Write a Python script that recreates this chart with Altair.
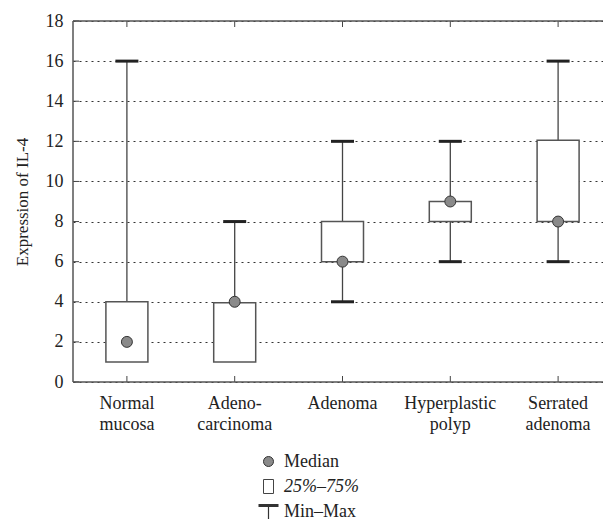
import altair as alt
import pandas as pd

categories = ["Normal\nmucosa", "Adeno-\ncarcinoma", "Adenoma", "Hyperplastic\npolyp", "Serrated\nadenoma"]
mins = [1, 1, 4, 6, 6]
q1s = [1, 1, 6, 8, 8]
medians = [2, 4, 6, 9, 8]
q3s = [4, 3.95, 8, 9, 12.05]
maxs = [16, 8, 12, 12, 16]
y_ticks = [0, 2, 4, 6, 8, 10, 12, 14, 16, 18]
legend_items = ["Median", "25%–75%", "Min–Max"]

df = pd.DataFrame({"cat": categories, "min": mins, "q1": q1s, "med": medians, "q3": q3s, "max": maxs})
ticks_df = pd.DataFrame({"v": y_ticks})
leg_df = pd.DataFrame({"item": legend_items, "cat": [categories[0]] * 3, "v": [0, 0, 0]})
one_df = pd.DataFrame({"a": [0]})

FONT = "Liberation Serif"
W, H = 530, 361
XRANGE = 539

xscale = alt.Scale(domain=categories, range=[0, XRANGE], paddingInner=0, paddingOuter=0)
xaxis = alt.Axis(labelExpr="split(datum.label, '\\n')", labelAngle=0, ticks=False,
                 domain=False, labelFont=FONT, labelFontSize=18, labelColor="#222",
                 labelPadding=12, labelLineHeight=21, grid=False)
yscale = alt.Scale(domain=[0, 18], nice=False)
yaxis = alt.Axis(values=y_ticks, tickCount=10, labelOverlap=False,
                 title="Expression of IL-4", titleFont=FONT, titleFontSize=17,
                 titleFontWeight="normal", titleColor="#222", titlePadding=14,
                 labelFont=FONT, labelFontSize=18, labelColor="#222", labelPadding=10,
                 ticks=False, domain=False, grid=True, gridDash=[2, 4], gridColor="#333",
                 gridWidth=1)


def X():
    return alt.X("cat:N", sort=categories, title=None, scale=xscale, axis=xaxis)


def Y(field):
    return alt.Y(field, scale=yscale, axis=yaxis)


base = alt.Chart(df)

grid = base.mark_rule(opacity=0).encode(x=X(), y=Y("med:Q"))

whisk_up = base.mark_rule(color="#444", strokeWidth=1.3).encode(x=X(), y=Y("q3:Q"), y2="max:Q")
whisk_lo = base.mark_rule(color="#444", strokeWidth=1.3).encode(x=X(), y=Y("min:Q"), y2="q1:Q")
cap_up = base.transform_filter(alt.datum.max > alt.datum.q3).mark_tick(
    color="#222", thickness=3, size=23, opacity=1).encode(x=X(), y=Y("max:Q"))
cap_lo = base.transform_filter(alt.datum.min < alt.datum.q1).mark_tick(
    color="#222", thickness=3, size=23, opacity=1).encode(x=X(), y=Y("min:Q"))
box = base.mark_bar(width=42, fill="white", stroke="#555", strokeWidth=1.5).encode(
    x=X(), y=Y("q1:Q"), y2="q3:Q")
med = base.mark_point(filled=True, shape="circle", size=120, fill="#8a8a8a", stroke="#333",
                      strokeWidth=1, opacity=1).encode(x=X(), y=Y("med:Q"))

top_ticks = base.mark_rule(color="#444", strokeWidth=1).encode(
    x=X(), y=alt.value(0), y2=alt.value(6))
bot_ticks = base.mark_rule(color="#444", strokeWidth=1).encode(
    x=X(), y=alt.value(H), y2=alt.value(H - 6))
ytick_marks = alt.Chart(ticks_df).mark_rule(color="#444", strokeWidth=1).encode(
    y=Y("v:Q"), x=alt.value(0), x2=alt.value(6))

frame_top = alt.Chart(one_df).mark_rule(color="#555", strokeWidth=1.5).encode(
    x=alt.value(0), x2=alt.value(W), y=alt.value(0))
frame_bot = alt.Chart(one_df).mark_rule(color="#555", strokeWidth=1.5).encode(
    x=alt.value(0), x2=alt.value(W), y=alt.value(H))
frame_left = alt.Chart(one_df).mark_rule(color="#555", strokeWidth=1.5).encode(
    x=alt.value(0), y=alt.value(0), y2=alt.value(H))

shape_range = [
    "M0.5,0A0.5,0.5,0,1,1,-0.5,0A0.5,0.5,0,1,1,0.5,0Z",
    "M-0.5,-0.7H0.5V0.7H-0.5Z",
    "M-1,-0.75H1V-0.45H-1Z M-0.06,-0.45H0.06V0.85H-0.06Z",
]
leg_common = dict(title=None, orient="none", legendX=185, legendY=430)
legend_layer = alt.Chart(leg_df).mark_point(opacity=0, filled=True).encode(
    x=X(),
    y=Y("v:Q"),
    shape=alt.Shape("item:N", sort=legend_items,
                    scale=alt.Scale(domain=legend_items, range=shape_range),
                    legend=alt.Legend(symbolSize=400, symbolOpacity=1, symbolStrokeWidth=1,
                                      labelFont=FONT, labelFontSize=18, labelColor="#222",
                                      labelOffset=5, rowPadding=5, padding=0,
                                      labelFontStyle={"expr": "datum.label == '25%–75%' ? 'italic' : 'normal'"},
                                      **leg_common)),
    fill=alt.Fill("item:N", sort=legend_items,
                  scale=alt.Scale(domain=legend_items, range=["#8a8a8a", "white", "#333"]),
                  legend=alt.Legend(**leg_common)),
    stroke=alt.Stroke("item:N", sort=legend_items,
                      scale=alt.Scale(domain=legend_items, range=["#333", "#444", "transparent"]),
                      legend=alt.Legend(**leg_common)),
)

chart = alt.layer(grid, whisk_up, whisk_lo, box, cap_up, cap_lo, med, top_ticks, bot_ticks,
                  ytick_marks, frame_top, frame_bot, frame_left, legend_layer).properties(
    width=W, height=H,
    autosize=alt.AutoSizeParams(type="none"),
    padding={"left": 65, "top": 13, "right": 0, "bottom": 137},
    background="white",
).configure_view(stroke=None)

chart.save("out.html", embed_options={"renderer": "svg", "actions": False})
